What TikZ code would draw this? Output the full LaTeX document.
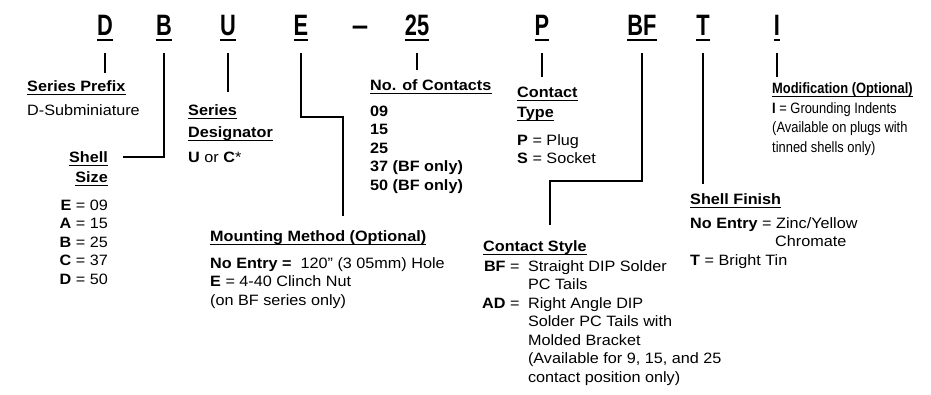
\documentclass[tikz,border=0pt]{standalone}
\usepackage{fontspec}
\setmainfont{Liberation Sans}
\newfontfamily\labelfont[FakeStretch=1.08]{Liberation Sans}
\newfontfamily\modfont[FakeStretch=0.86]{Liberation Sans}
\newfontfamily\codefont[FakeStretch=0.74]{Liberation Sans}
\usetikzlibrary{calc}

\newcommand{\colblock}[2][l]{\begin{tabular}[t]{@{}#1@{}}#2\end{tabular}}

\begin{document}
\begin{tikzpicture}[x=1pt, y=-1pt,
  conn/.style={line width=1.8pt},
  uline/.style={line width=1.4pt},
  cline/.style={line width=2.4pt},
  code/.style={font=\codefont\bfseries\fontsize{29.5}{30}\selectfont, inner sep=0pt, anchor=base},
  coded/.style={code,
    append after command={([yshift=-5pt]\tikzlastnode.base west) edge[cline] ([yshift=-5pt]\tikzlastnode.base east)}},
  hdr/.style={font=\labelfont\bfseries\fontsize{15}{18.5}\selectfont, inner sep=0pt, anchor=base west,
    append after command={([yshift=-3.5pt]\tikzlastnode.base west) edge[uline] ([yshift=-3.5pt]\tikzlastnode.base east)}},
  body/.style={font=\labelfont\fontsize{15}{18.5}\selectfont, inner sep=0pt, anchor=base west}]

\path[use as bounding box, fill=white] (0,0) rectangle (931,394);

%---------------------------------------
% Part number code
%---------------------------------------
\def\codeY{35}
\node[coded] (cD)  at (105,\codeY) {D};
\node[coded] (cB)  at (164,\codeY) {B};
\node[coded] (cU)  at (228,\codeY) {U};
\node[coded] (cE)  at (301,\codeY) {E};
\node[code, font=\bfseries\fontsize{29.5}{30}\selectfont] (cDash) at (360,\codeY) {–};
\node[coded] (c25) at (417,\codeY) {25};
\node[coded] (cP)  at (542,\codeY) {P};
\node[coded] (cBF) at (642,\codeY) {BF};
\node[coded] (cT)  at (703,\codeY) {T};
\node[coded] (cI)  at (777,\codeY) {I};

%---------------------------------------
% Left blocks
%---------------------------------------
% Series prefix
\node[hdr] (hPrefix) at (27,91) {Series Prefix};
\node[body] (bPrefix) at (27,115) {D-Subminiature};

% Shell size
\node[hdr, anchor=base east] (hShell) at (108,162) {Shell};
\node[hdr, anchor=base east] (hSize)  at (108,182) {Size};
\node[body, anchor=base east] (bSize) at (108,210)
  {\colblock[r]{\textbf{E} = 09\\ \textbf{A} = 15\\ \textbf{B} = 25\\ \textbf{C} = 37\\ \textbf{D} = 50}};

% Series designator
\node[hdr] (hSeries) at (188,115) {Series};
\node[hdr] (hDesig)  at (188,137) {Designator};
\node[body] (bDesig) at (188,162) {\textbf{U} or \textbf{C}*};

% Mounting method
\node[hdr] (hMount) at (210,241) {Mounting Method (Optional)};
\node[body] (bMount) at (210,268)
  {\colblock{\textbf{No Entry =}\ \ 120” (3 05mm) Hole\\ \textbf{E} = 4-40 Clinch Nut\\ (on BF series only)}};

%---------------------------------------
% Middle blocks
%---------------------------------------
% Number of contacts
\node[hdr] (hContacts) at (370,90) {No. of Contacts};
\node[body, font=\labelfont\bfseries\fontsize{15}{18.5}\selectfont] (bContacts) at (370,116)
  {\colblock{09\\ 15\\ 25\\ 37 (BF only)\\ 50 (BF only)}};

% Contact type
\node[hdr] (hContact) at (517,97) {Contact};
\node[hdr] (hType)    at (517,117) {Type};
\node[body] (bType) at (517,145) {\colblock{\textbf{P} = Plug\\ \textbf{S} = Socket}};

% Contact style
\node[hdr] (hStyle) at (483,251) {Contact Style};
\node[body] (bStyle) at (482,271)
  {\begin{tabular}[t]{@{}r@{\hspace{8.5pt}}l@{}}
   \textbf{BF}\hspace{4.5pt}= & Straight DIP Solder\\
                              & PC Tails\\
   \textbf{AD}\hspace{4.5pt}= & Right Angle DIP\\
                              & Solder PC Tails with\\
                              & Molded Bracket\\
                              & (Available for 9, 15, and 25\\
                              & contact position only)
   \end{tabular}};

%---------------------------------------
% Right blocks
%---------------------------------------
% Shell finish
\node[hdr] (hFinish) at (690,204) {Shell Finish};
\node[body] (bFinish) at (690,228)
  {\colblock{\textbf{No Entry} = Zinc/Yellow\\ \hspace*{85pt}Chromate\\ \textbf{T} = Bright Tin}};

% Modification
\node[hdr, font=\modfont\bfseries\fontsize{15}{19.7}\selectfont] (hMod) at (772,93) {Modification (Optional)};
\node[body, font=\modfont\fontsize{15}{19.7}\selectfont] (bMod) at (772,113)
  {\colblock{\textbf{I} = Grounding Indents\\ (Available on plugs with\\ tinned shells only)}};

%---------------------------------------
% Connectors
%---------------------------------------
\coordinate (eBend)  at (343,117);
\coordinate (bfBend) at (550,181);

\draw[conn, shorten >=7pt]  ([yshift=-18pt]cD.base) -- (cD.base |- hPrefix.north);
\draw[conn] ([yshift=-18pt]cB.base) |- ([xshift=15pt]hShell.east);
\draw[conn, shorten >=12pt] ([yshift=-18pt]cU.base) -- (cU.base |- hSeries.north);
\draw[conn, shorten >=14pt] ([yshift=-18pt]cE.base) |- (eBend) -- (eBend |- hMount.north);
\draw[conn, shorten >=9pt]  ([yshift=-18pt]c25.base) -- (c25.base |- hContacts.north);
\draw[conn, shorten >=9pt]  ([yshift=-18pt]cP.base) -- (cP.base |- hContact.north);
\draw[conn, shorten >=15pt] ([yshift=-18pt]cBF.base) |- (bfBend) -- (bfBend |- hStyle.north);
\draw[conn, shorten >=9pt]  ([yshift=-18pt]cT.base) -- (cT.base |- hFinish.north);
\draw[conn, shorten >=5pt]  ([yshift=-18pt]cI.base) -- (cI.base |- hMod.north);

\end{tikzpicture}
\end{document}
